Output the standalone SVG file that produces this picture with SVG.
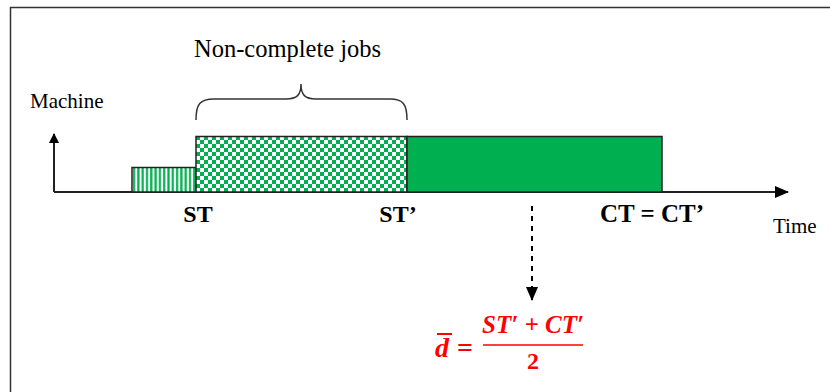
<svg xmlns="http://www.w3.org/2000/svg" width="830" height="392" viewBox="0 0 830 392">
<defs>
<pattern id="checker" x="196" y="136" width="8" height="8" patternUnits="userSpaceOnUse">
<rect width="8" height="8" fill="#fff"/>
<rect width="4" height="4" fill="#00b050"/>
<rect x="4" y="4" width="4" height="4" fill="#00b050"/>
</pattern>
<pattern id="stripes" x="132" y="0" width="4.3" height="10" patternUnits="userSpaceOnUse">
<rect width="4.3" height="10" fill="#fff"/>
<rect x="1" width="2.2" height="10" fill="#00b050"/>
</pattern>
<marker id="arr" markerWidth="10" markerHeight="10" refX="9" refY="5" orient="auto" markerUnits="userSpaceOnUse">
<path d="M0,0 L10,5 L0,10 Z" fill="#000"/>
</marker>
<marker id="arr2" markerWidth="14" markerHeight="12" refX="13" refY="6" orient="auto" markerUnits="userSpaceOnUse">
<path d="M0,0 L14,6 L0,12 Z" fill="#000"/>
</marker>
</defs>
<style>
.b{font-weight:bold}
.r{fill:#ff0000;font-weight:bold}
.box{stroke:#222;stroke-width:1.5}
</style>
<rect width="830" height="392" fill="#fff"/>
<path d="M10.5,392 V7.5 H830" fill="none" stroke="#333" stroke-width="1.5"/>
<g id="axes">
<line x1="54" y1="192" x2="54" y2="134" stroke="#222" stroke-width="2" marker-end="url(#arr)"/>
<line x1="54" y1="192" x2="788" y2="192" stroke="#222" stroke-width="2" marker-end="url(#arr2)"/>
</g>
<g id="bar-prev"><rect class="box" x="132" y="167.5" width="64" height="24.5" fill="url(#stripes)"/></g>
<g id="bar-noncomplete"><rect class="box" x="196" y="136.5" width="211" height="55.5" fill="url(#checker)"/></g>
<g id="bar-complete"><rect class="box" x="407" y="136.5" width="255" height="55.5" fill="#00b050"/></g>
<g id="brace"><path d="M196,120 C196,104 200,99 214,99 L286,99 C297,99 301,95 301,84 C301,95 305,99 316,99 L390,99 C403,99 407,104 407,120" fill="none" stroke="#333" stroke-width="1.5"/></g>
<g id="labels" font-family="'Liberation Serif', 'Times New Roman', serif" fill="#000">
<text x="30" y="108" font-size="21">Machine</text>
<text x="194" y="57" font-size="24.5">Non-complete jobs</text>
<text class="b" x="198" y="222" font-size="24" text-anchor="middle">ST</text>
<text class="b" x="398" y="222" font-size="24" text-anchor="middle">ST’</text>
<text class="b" x="652" y="222" font-size="25" text-anchor="middle">CT = CT’</text>
<text x="773" y="233" font-size="21">Time</text>
</g>
<g id="connectors">
<line x1="532" y1="206" x2="532" y2="300" stroke="#000" stroke-width="2" stroke-dasharray="5,5" marker-end="url(#arr2)"/>
</g>
<g id="formula" font-family="'Liberation Serif', 'Times New Roman', serif" fill="#ff0000">
<text class="r" x="435" y="357" font-size="28" font-style="italic">d</text>
<line x1="437" y1="334" x2="452" y2="334" stroke="#ff0000" stroke-width="2"/>
<text x="457" y="357" font-size="28" font-weight="bold">=</text>
<text class="r" x="533" y="333" font-size="25" font-style="italic" text-anchor="middle">ST′ + CT′</text>
<line x1="483" y1="345" x2="583" y2="345" stroke="#ff0000" stroke-width="1.5"/>
<text class="r" x="533" y="369" font-size="24" text-anchor="middle">2</text>
</g>
</svg>
